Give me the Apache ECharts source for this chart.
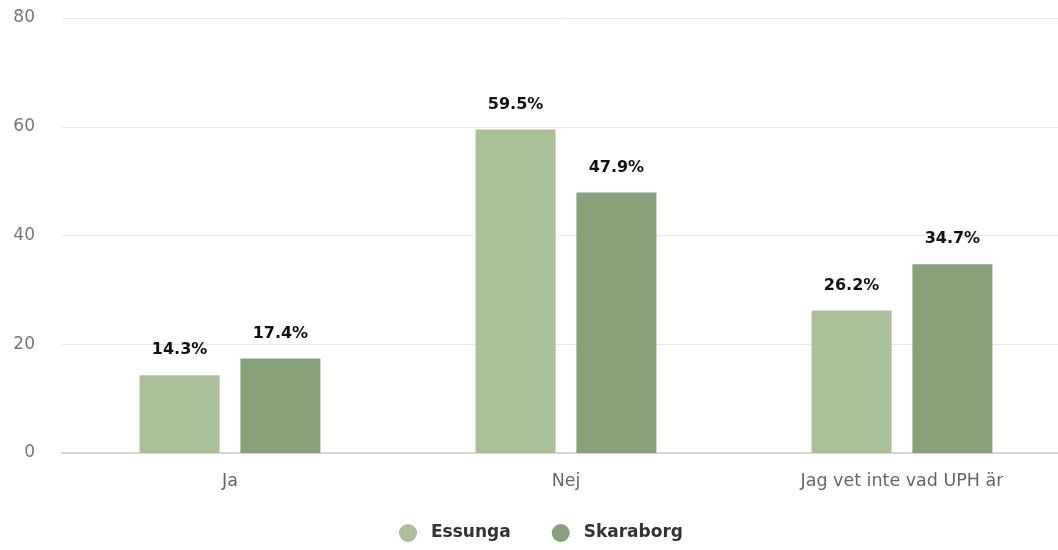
<!DOCTYPE html>
<html lang="sv">
<head>
  <meta charset="UTF-8">
  <title>UPH</title>
  <script src="https://cdn.jsdelivr.net/npm/echarts@6/dist/echarts.min.js"></script>
  <style>
    html, body { margin: 0; padding: 0; background: #fff; }
    #chart { width: 1058px; height: 550px; }
  </style>
</head>
<body>
  <div id="chart"></div>
  <script>
    // data
    var categories = ['Ja', 'Nej', 'Jag vet inte vad UPH är'];
    var seriesNames = ['Essunga', 'Skaraborg'];
    var essunga = [14.3, 59.5, 26.2];
    var skaraborg = [17.4, 47.9, 34.7];
    var colors = ['#a9c098', '#87a17b'];

    var chart = echarts.init(document.getElementById('chart'));

    function labelOpt() {
      return {
        show: true,
        position: 'top',
        distance: 17,
        formatter: '{c}%',
        color: '#111',
        fontWeight: 'bold',
        fontSize: 16,
        fontFamily: 'DejaVu Sans'
      };
    }

    var option = {
      color: colors,
      textStyle: { fontFamily: 'DejaVu Sans' },
      legend: {
        top: 519,
        left: 394,
        icon: 'circle',
        itemWidth: 36,
        itemHeight: 18,
        itemGap: 41,
        textStyle: { fontSize: 17, fontWeight: 'bold', color: '#333' },
        data: seriesNames
      },
      grid: { left: 62, width: 1008, top: 18, bottom: 97, outerBoundsMode: 'none' },
      xAxis: {
        type: 'category',
        data: categories,
        axisTick: { show: false },
        axisLine: { lineStyle: { color: '#d6d6d6', width: 2 } },
        axisLabel: { color: '#666', fontSize: 17.5, margin: 19 }
      },
      yAxis: {
        type: 'value',
        min: 0,
        max: 80,
        interval: 20,
        axisLabel: { color: '#777', fontSize: 17, margin: 27 },
        splitLine: { lineStyle: { color: '#e8e8e8' } }
      },
      series: [
        {
          name: seriesNames[0],
          type: 'bar',
          data: essunga,
          barWidth: 80,
          barGap: '26%',
          label: labelOpt()
        },
        {
          name: seriesNames[1],
          type: 'bar',
          data: skaraborg,
          barWidth: 80,
          label: labelOpt()
        }
      ]
    };
    chart.setOption(option);
  </script>
</body>
</html>
